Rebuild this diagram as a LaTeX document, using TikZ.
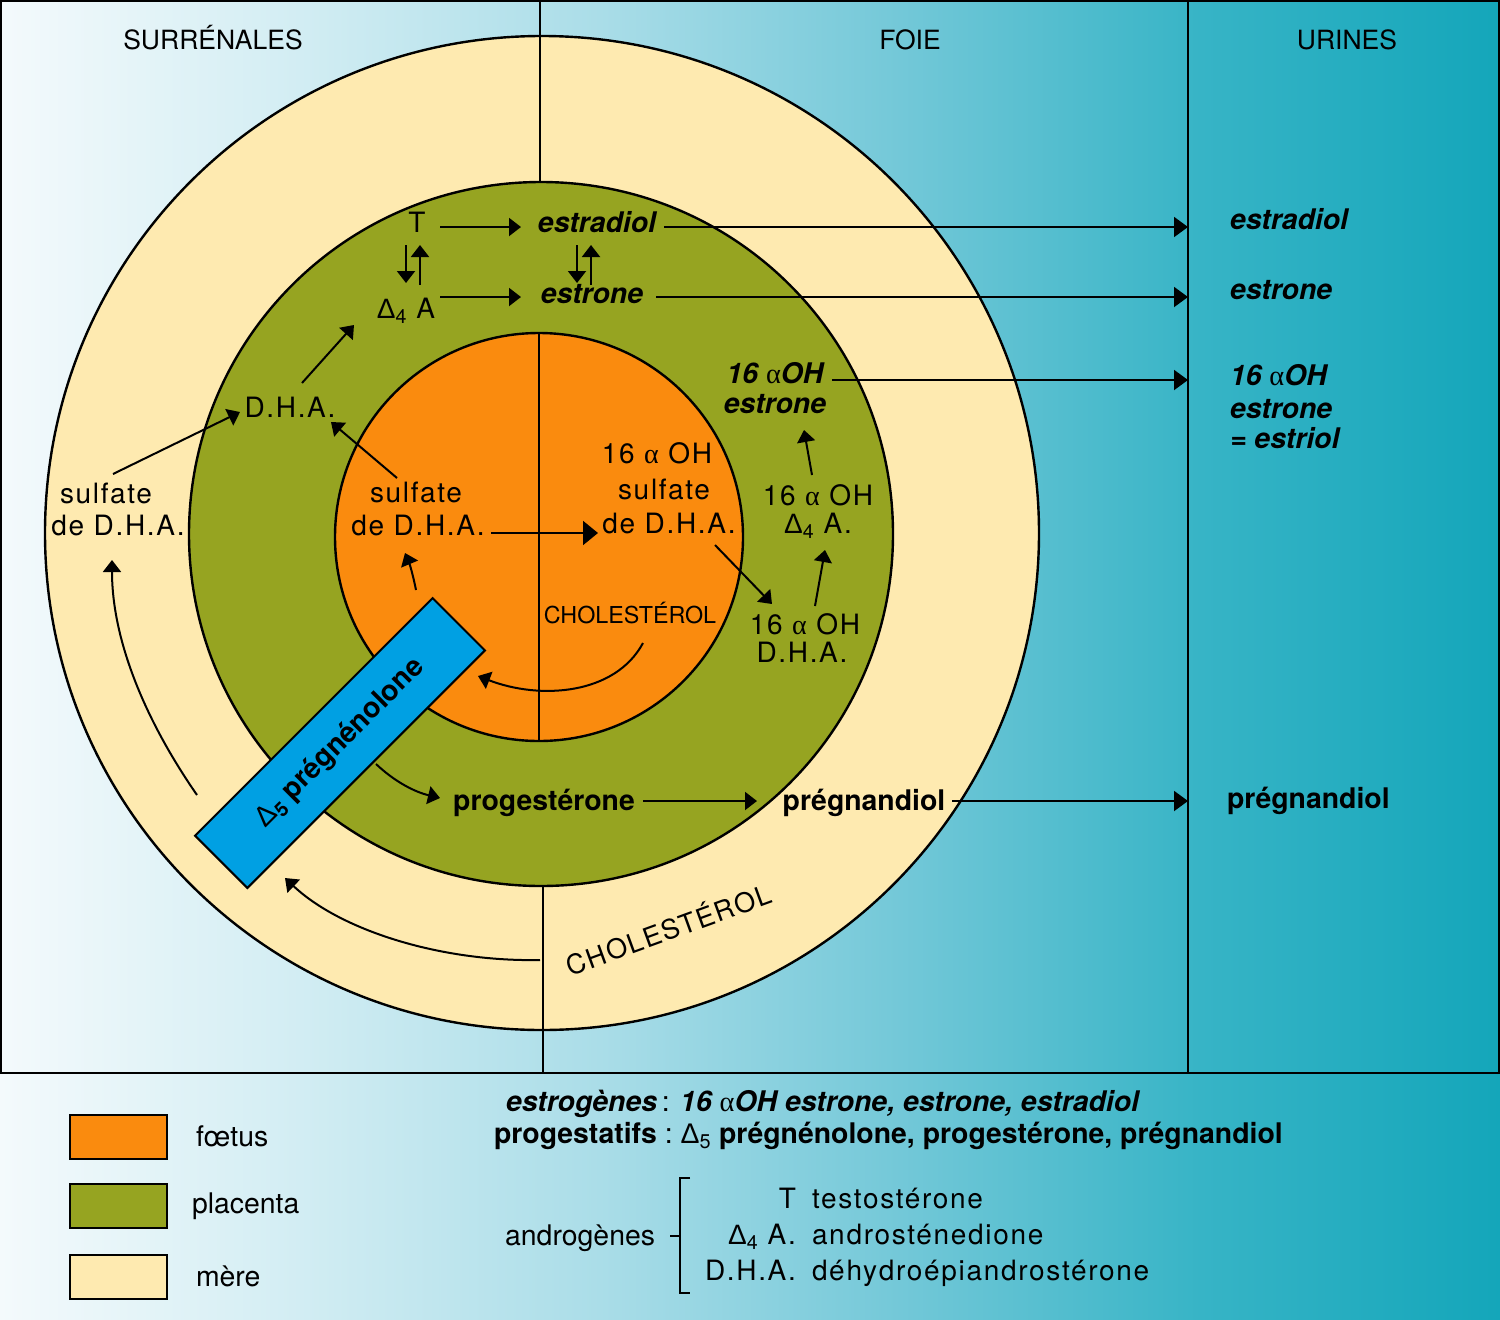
\documentclass[tikz,border=0pt]{standalone}
\usepackage{fontspec}
\setmainfont{TeX Gyre Heros}
\newfontfamily\rgfont[LetterSpace=6]{TeX Gyre Heros}
\newfontfamily\grk{Liberation Serif}
\newfontfamily\lsans{Liberation Sans}
\usetikzlibrary{arrows.meta}
\definecolor{orangeC}{RGB}{250,139,14}
\definecolor{oliveC}{RGB}{150,164,33}
\definecolor{beigeC}{RGB}{254,234,176}
\definecolor{blueC}{RGB}{0,160,227}
\definecolor{g0}{RGB}{244,250,252}
\definecolor{g1}{RGB}{210,237,243}
\definecolor{g2}{RGB}{170,221,232}
\definecolor{g3}{RGB}{115,200,216}
\definecolor{g4}{RGB}{55,180,198}
\definecolor{g5}{RGB}{20,166,186}
\pgfdeclarehorizontalshading{bgshade}{100bp}{color(0bp)=(g0); color(25bp)=(g0); color(35bp)=(g1); color(45bp)=(g2); color(55bp)=(g3); color(65bp)=(g4); color(75bp)=(g5); color(100bp)=(g5)}
\newcommand\alf{{\grk\mdseries\upshape α}}
\newcommand\Dlt{{\lsans\mdseries\upshape Δ}}
\tikzset{
  every node/.style={inner sep=0pt, outer sep=0pt},
  rg/.style={font=\fontsize{28}{33}\selectfont\rgfont},
  pl/.style={font=\fontsize{28.4}{33}\selectfont},
  sm/.style={font=\fontsize{23.3}{27}\selectfont},
  ttl/.style={font=\fontsize{26.5}{30}\selectfont},
  bd/.style={font=\fontsize{28.4}{33}\selectfont\bfseries},
  bi/.style={font=\fontsize{28.4}{33}\selectfont\bfseries\itshape},
  arr/.style={line width=2pt, -{Triangle[length=12pt,width=18pt]}},
  bigarr/.style={line width=2pt, -{Triangle[length=14pt,width=20pt]}},
  ring/.style={draw=black, line width=2.4pt},
  sep/.style={line width=2pt},
}
\begin{document}
\begin{tikzpicture}[x=1pt,y=-1pt]
\useasboundingbox (0,0) rectangle (1500,1320);
% background
\fill[shading=bgshade] (0,0) rectangle (1500,1320);
% circles
\draw[ring, fill=beigeC] (542,533) circle (497);
\draw[sep] (540,0) -- (540,183);
\draw[sep] (543,885) -- (543,1073);
\draw[ring, fill=oliveC] (541,534) circle (352);
\draw[ring, fill=orangeC] (539,537) circle (204);
\draw[sep] (539,333) -- (539,741);
% frame
\draw[sep] (1,1) rectangle (1499,1073);
\draw[sep] (1188,0) -- (1188,1073);

% titles
\node[ttl, anchor=base] (surr) at (213,49) {SURRÉNALES};
\node[ttl, anchor=base] (foie) at (910,49) {FOIE};
\node[ttl, anchor=base] (urin) at (1347,49) {URINES};

% placenta top
\node[rg, anchor=base] (T) at (417,232) {T};
\node[bi, anchor=base] (estradiol) at (597,232) {estradiol};
\node[rg, anchor=base] (D4A) at (406,318) {\Dlt\textsubscript{4} A};
\node[bi, anchor=base] (estrone) at (592,303) {estrone};
\draw[arr] (440,227) coordinate (a1) -- (521,227) coordinate (a2);
\draw[arr] (440,297) coordinate (b1) -- (521,297) coordinate (b2);
\draw[arr] (406,245) -- (406,283);
\draw[arr] (420,285) -- (420,245);
\draw[arr] (577,245) -- (577,283);
\draw[arr] (591,285) -- (591,245);
\draw[bigarr] (664,227) coordinate (c1) -- (1188,227) coordinate (u1);
\draw[bigarr] (656,297) coordinate (c2) -- (1188,297) coordinate (u2);

% 16 OH estrone
\node[bi, anchor=base] (ohA) at (775,383) {16 \alf OH};
\node[bi, anchor=base] (ohB) at (775,413) {estrone};
\draw[bigarr] (832,380) coordinate (c3) -- (1188,380) coordinate (u3);
\node[rg, anchor=base] (ohC) at (818,505) {16 \alf\ OH};
\node[rg, anchor=base] (ohD) at (818,533) {\Dlt\textsubscript{4} A.};
\node[rg, anchor=base] (ohE) at (805,634) {16 \alf\ OH};
\node[rg, anchor=base] (ohF) at (802,662) {D.H.A.};
\draw[arr] (812,475) -- (804,430);
\draw[arr] (815,606) -- (825,550);
\draw[arr] (715,545) -- (772,604);

% foetus
\node[rg, anchor=base] (fsA) at (657,463) {16 \alf\ OH};
\node[rg, anchor=base] (fsB) at (664,499) {sulfate};
\node[rg, anchor=base] (fsC) at (669,533) {de D.H.A.};
\node[rg, anchor=base] (fsD) at (416,502) {sulfate};
\node[rg, anchor=base] (fsE) at (418,535) {de D.H.A.};
\node[sm, anchor=base] (fchol) at (630,623) {CHOLESTÉROL};
\draw[line width=2pt, -{Triangle[length=15pt,width=24pt]}] (491,533) -- (598,533);
\draw[arr] (643,643) .. controls (615,695) and (540,700) .. (478,676);
\draw[arr] (416,590) .. controls (413,575) and (410,565) .. (405,553);

% D.H.A. placenta / mere
\node[rg, anchor=base] (dha) at (290,417) {D.H.A.};
\draw[arr] (397,478) -- (331,422);
\draw[arr] (302,383) -- (354,325);
\node[rg, anchor=base] (msA) at (106,503) {sulfate};
\node[rg, anchor=base] (msB) at (118,535) {de D.H.A.};
\draw[arr] (113,474) -- (240,412);
\draw[arr] (197,795) .. controls (145,720) and (112,640) .. (112,560);
\draw[arr] (540,960) .. controls (440,962) and (340,930) .. (285,878);
\node[font=\fontsize{27}{30}\selectfont\rgfont, rotate=20] (mchol) at (668,928) {CHOLESTÉROL};

% pregnenolone box
\node[draw=black, line width=2pt, fill=blueC, rotate=45, minimum width=336pt, minimum height=74pt, font=\fontsize{28.4}{33}\selectfont\bfseries] (preg) at (340,743) {\Dlt\textsubscript{5} prégnénolone};
\draw[arr] (376,764) .. controls (395,782) and (415,792) .. (440,798);
\node[bd, anchor=base] (prog) at (544,810) {progestérone};
\node[bd, anchor=base] (pregd) at (864,810) {prégnandiol};
\draw[arr] (643,801) -- (757,801);
\draw[bigarr] (952,801) coordinate (c4) -- (1188,801) coordinate (u4);

% urines
\node[bi, anchor=base west] (uA) at (1230,229) {estradiol};
\node[bi, anchor=base west] (uB) at (1230,299) {estrone};
\node[bi, anchor=base west] (uC) at (1230,385) {16 \alf OH};
\node[bi, anchor=base west] (uD) at (1230,418) {estrone};
\node[bi, anchor=base west] (uE) at (1230,448) {= estriol};
\node[bd, anchor=base west] (uF) at (1227,808) {prégnandiol};

% legend
\draw[line width=2pt, fill=orangeC] (70,1115) rectangle (167,1159);
\draw[line width=2pt, fill=oliveC] (70,1184) rectangle (167,1228);
\draw[line width=2pt, fill=beigeC] (70,1255) rectangle (167,1299);
\node[pl, anchor=base west] (lf) at (196,1146) {fœtus};
\node[pl, anchor=base west] (lp) at (192,1213) {placenta};
\node[pl, anchor=base west] (lm) at (196,1286) {mère};
\node[pl, anchor=base west] (l1) at (506,1111) {{\bfseries\itshape estrogènes}\,: {\bfseries\itshape 16 \alf OH estrone, estrone, estradiol}};
\node[pl, anchor=base west] (l2) at (494,1143) {{\bfseries progestatifs} :\ \Dlt\textsubscript{5} {\bfseries prégnénolone, progestérone, prégnandiol}};
\node[pl, anchor=base east] (andr) at (655,1245) {androgènes};
\draw[line width=2pt] (690,1178) -- (680,1178) -- (680,1293) -- (690,1293);
\draw[line width=2pt] (670,1236) -- (680,1236);
\node[rg, anchor=base east] (kT) at (796,1208) {T};
\node[rg, anchor=base east] (kA) at (796,1244) {\Dlt\textsubscript{4} A.};
\node[rg, anchor=base east] (kD) at (796,1280) {D.H.A.};
\node[rg, anchor=base west] (nT) at (812,1208) {testostérone};
\node[rg, anchor=base west] (nA) at (812,1244) {androsténedione};
\node[rg, anchor=base west] (nD) at (812,1280) {déhydroépiandrostérone};
\end{tikzpicture}
\end{document}
